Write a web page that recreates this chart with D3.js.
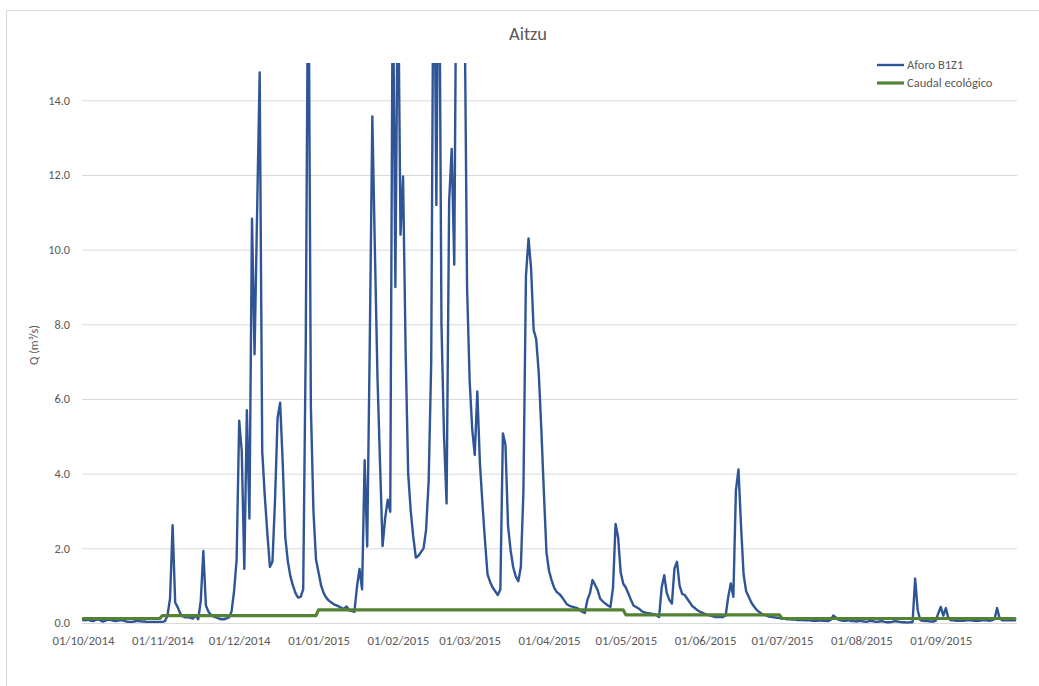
<!DOCTYPE html>
<html>
<head>
<meta charset="utf-8">
<title>Aitzu</title>
<script src="https://cdn.jsdelivr.net/npm/d3@7"></script>
<style>
  body { margin: 0; background: #fff; }
  text { font-family: Carlito, Calibri, Lato, "Open Sans", sans-serif; fill: #595959; }
</style>
</head>
<body>
<svg id="chart" width="1039" height="686"></svg>
<script>
// Hydrological year 2014-2015, daily mean flow (m³/s), gauge B1Z1 at Aitzu
const chartTitle = "Aitzu";
const yAxisTitle = "Q (m³/s)";
const seriesNames = ["Aforo B1Z1", "Caudal ecológico"];
const firstDay = [2014, 9, 1];   // 1 October 2014 (UTC, month index 9)
const lastDay = [2015, 8, 30];   // 30 September 2015
const yMax = 15;
const yTicks = [0, 2, 4, 6, 8, 10, 12, 14];
const monthTickLabels = ["01/10/2014", "01/11/2014", "01/12/2014", "01/01/2015", "01/02/2015", "01/03/2015",
                         "01/04/2015", "01/05/2015", "01/06/2015", "01/07/2015", "01/08/2015", "01/09/2015"];

// Daily gauged flow, one array per month
const flowOct = [0.08,0.07,0.09,0.06,0.05,0.08,0.10,0.06,0.04,0.07,0.09,0.08,0.06,0.05,0.07,0.08,0.06,0.04,0.03,0.03,0.04,0.06,0.05,0.04,0.04,0.03,0.03,0.03,0.03,0.03,0.03];
const flowNov = [0.03,0.05,0.20,0.66,2.62,0.55,0.42,0.25,0.18,0.15,0.15,0.14,0.12,0.20,0.10,0.60,1.93,0.47,0.30,0.22,0.17,0.15,0.12,0.10,0.10,0.12,0.15,0.30,0.85,1.70];
const flowDec = [5.42,4.60,1.45,5.70,2.80,10.83,7.20,11.00,14.75,4.60,3.40,2.40,1.50,1.65,3.30,5.50,5.90,4.30,2.30,1.65,1.25,1.00,0.80,0.68,0.70,0.90,7.50,19.00,5.80,3.00,1.70];
const flowJan = [1.35,1.00,0.80,0.68,0.60,0.55,0.50,0.47,0.44,0.40,0.39,0.44,0.34,0.32,0.30,0.97,1.45,0.90,4.36,2.05,7.50,13.57,10.00,6.60,4.30,2.06,2.80,3.30,2.98,18.00,9.00];
const flowFeb = [18.00,10.40,11.96,7.30,4.00,3.00,2.30,1.75,1.80,1.90,2.00,2.50,3.80,7.00,20.00,11.20,20.00,8.00,5.00,3.20,11.30,12.70,9.60,20.00,22.00,20.00,17.00,9.00];
const flowMar = [6.50,5.20,4.50,6.20,4.30,3.20,2.20,1.30,1.10,0.95,0.85,0.75,0.90,5.08,4.77,2.60,1.95,1.50,1.25,1.12,1.50,3.50,9.30,10.30,9.50,7.85,7.60,6.70,5.20,3.50,1.90];
const flowApr = [1.40,1.15,0.95,0.83,0.78,0.70,0.60,0.50,0.46,0.44,0.42,0.40,0.35,0.30,0.27,0.62,0.80,1.15,1.02,0.88,0.65,0.58,0.52,0.47,0.43,0.95,2.65,2.29,1.35,1.05];
const flowMay = [0.95,0.79,0.62,0.47,0.43,0.39,0.33,0.29,0.27,0.26,0.25,0.23,0.21,0.16,0.95,1.28,0.80,0.62,0.52,1.46,1.64,1.00,0.78,0.75,0.65,0.55,0.45,0.40,0.34,0.30,0.27];
const flowJun = [0.24,0.22,0.20,0.18,0.16,0.16,0.16,0.16,0.20,0.70,1.06,0.70,3.56,4.11,2.60,1.30,0.85,0.70,0.55,0.45,0.36,0.30,0.25,0.22,0.20,0.17,0.16,0.15,0.14,0.13];
const flowJul = [0.12,0.11,0.10,0.10,0.09,0.09,0.08,0.08,0.08,0.07,0.07,0.07,0.06,0.06,0.06,0.07,0.06,0.06,0.05,0.08,0.20,0.15,0.09,0.07,0.06,0.06,0.08,0.05,0.05,0.04,0.06];
const flowAug = [0.05,0.04,0.03,0.05,0.06,0.04,0.03,0.04,0.05,0.03,0.02,0.02,0.03,0.05,0.04,0.03,0.02,0.02,0.01,0.02,0.02,1.19,0.34,0.08,0.06,0.05,0.05,0.04,0.04,0.06,0.25];
const flowSep = [0.43,0.20,0.40,0.12,0.07,0.07,0.06,0.06,0.06,0.06,0.07,0.07,0.07,0.06,0.06,0.06,0.07,0.08,0.07,0.06,0.07,0.10,0.40,0.12,0.07,0.07,0.07,0.07,0.07,0.07];

// Ecological flow regime, one value per month (Oct ... Sep)
const ecoFlowByMonth = [0.12, 0.20, 0.20, 0.35, 0.35, 0.35, 0.35, 0.22, 0.22, 0.12, 0.12, 0.12];

const flowDaily = [].concat(flowOct, flowNov, flowDec, flowJan, flowFeb, flowMar,
                            flowApr, flowMay, flowJun, flowJul, flowAug, flowSep);

const startDate = new Date(Date.UTC(...firstDay));
const endDate = new Date(Date.UTC(...lastDay));
const days = d3.utcDays(startDate, d3.utcDay.offset(endDate, 1));

const gauged = days.map((d, i) => ({ date: d, value: flowDaily[i] }));
const monthIndex = d => (d.getUTCFullYear() - startDate.getUTCFullYear()) * 12 + d.getUTCMonth() - startDate.getUTCMonth();
const ecological = days.map(d => ({ date: d, value: ecoFlowByMonth[monthIndex(d)] }));

const plot = { left: 82, right: 1017, top: 63, bottom: 623 };

const svg = d3.select("#chart");

// Chart frame
svg.append("rect")
  .attr("x", 6.5).attr("y", 10.5)
  .attr("width", 1040).attr("height", 680)
  .attr("fill", "none").attr("stroke", "#d9d9d9");

const x = d3.scaleUtc().domain([startDate, endDate]).range([83, 1015]);
const y = d3.scaleLinear().domain([0, yMax]).range([plot.bottom, plot.top]);

// Horizontal gridlines and value labels
const yAxis = svg.append("g")
  .attr("transform", `translate(${plot.left},0)`)
  .call(d3.axisLeft(y).tickValues(yTicks).tickFormat(d3.format(".1f"))
    .tickSize(-(plot.right - plot.left)).tickPadding(12));
yAxis.select(".domain").remove();
yAxis.selectAll(".tick line").attr("stroke", "#d9d9d9").attr("stroke-width", 1);
yAxis.selectAll(".tick text").attr("font-size", 12.3).attr("fill", "#595959");
yAxis.attr("font-family", null);

// Month labels
const monthStarts = d3.utcMonths(startDate, d3.utcDay.offset(endDate, 1));
const xAxis = svg.append("g")
  .attr("transform", `translate(0,${plot.bottom})`)
  .call(d3.axisBottom(x).tickValues(monthStarts)
    .tickFormat((d, i) => monthTickLabels[i]).tickSize(0).tickPadding(13));
xAxis.select(".domain").remove();
xAxis.selectAll(".tick text").attr("font-size", 12.8).attr("fill", "#595959");
xAxis.attr("font-family", null);

// Series lines, clipped to the plot area
svg.append("clipPath").attr("id", "plot-clip")
  .append("rect")
  .attr("x", plot.left).attr("y", plot.top)
  .attr("width", plot.right - plot.left).attr("height", plot.bottom - plot.top + 4);

const line = d3.line().x(d => x(d.date)).y(d => y(d.value));
const lines = svg.append("g").attr("clip-path", "url(#plot-clip)");

lines.append("path").datum(gauged)
  .attr("d", line)
  .attr("fill", "none").attr("stroke", "#2f5597").attr("stroke-width", 2.4)
  .attr("stroke-linejoin", "round").attr("stroke-linecap", "round");

lines.append("path").datum(ecological)
  .attr("d", line)
  .attr("fill", "none").attr("stroke", "#548235").attr("stroke-width", 3.2)
  .attr("stroke-linejoin", "round").attr("stroke-linecap", "round");

// Title
svg.append("text")
  .attr("x", 528).attr("y", 40)
  .attr("text-anchor", "middle").attr("font-size", 18.5)
  .text(chartTitle);

// Axis title
svg.append("text")
  .attr("transform", "translate(38,345) rotate(-90)")
  .attr("text-anchor", "middle").attr("font-size", 12.3)
  .text(yAxisTitle);

// Legend
const legendColors = ["#2f5597", "#548235"];
const legendWidths = [2.4, 3.2];
const legend = svg.append("g");
seriesNames.forEach((name, i) => {
  const ly = 65 + i * 18;
  legend.append("line")
    .attr("x1", 877).attr("x2", 904).attr("y1", ly).attr("y2", ly)
    .attr("stroke", legendColors[i]).attr("stroke-width", legendWidths[i]);
  legend.append("text")
    .attr("x", 907).attr("y", ly + 4)
    .attr("font-size", 12.5)
    .text(name);
});
</script>
</body>
</html>
